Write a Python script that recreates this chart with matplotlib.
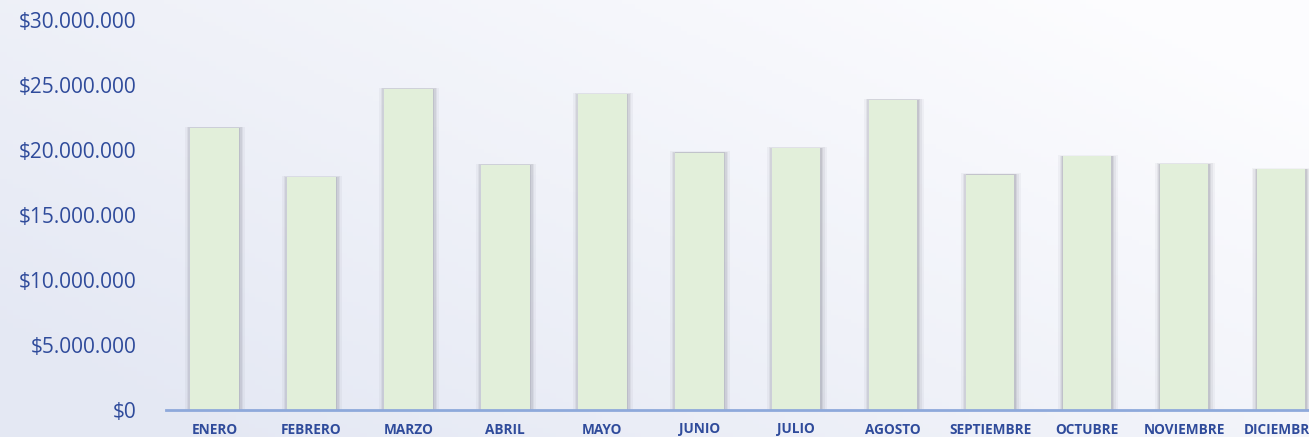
import numpy as np
import matplotlib.pyplot as plt
from matplotlib.ticker import FuncFormatter

meses = ['ENERO', 'FEBRERO', 'MARZO', 'ABRIL', 'MAYO', 'JUNIO', 'JULIO',
         'AGOSTO', 'SEPTIEMBRE', 'OCTUBRE', 'NOVIEMBRE', 'DICIEMBRE']
ventas = [21.7e6, 17.9e6, 24.7e6, 18.85e6, 24.3e6, 19.8e6, 20.15e6,
          23.85e6, 18.1e6, 19.5e6, 18.9e6, 18.5e6]
y_ticks = [0, 5e6, 10e6, 15e6, 20e6, 25e6, 30e6]

W, H = 1309, 437
fig = plt.figure(figsize=(W / 100, H / 100), dpi=100)

# fondo degradado
bg = fig.add_axes([0, 0, 1, 1], zorder=0)
gx = np.linspace(0, 1, 200)
gy = np.linspace(0, 1, 100)
X, Y = np.meshgrid(gx, gy)
t = np.clip(0.7 * X + 0.5 * Y - 0.1, 0, 1)
c0 = np.array([0.895, 0.91, 0.955])
c1 = np.array([0.99, 0.99, 0.998])
img = c0[None, None, :] * (1 - t[..., None]) + c1[None, None, :] * t[..., None]
bg.imshow(img, aspect='auto', extent=[0, 1, 0, 1], origin='lower')
bg.axis('off')

x0 = 166 / W
ax = fig.add_axes([x0, 27 / H, 1 - x0, (410 - 20) / H], zorder=1)
ax.patch.set_alpha(0)

x = np.arange(len(meses))
ventas = np.array(ventas)
# sombra difusa
for w, a in [(0.62, 0.05), (0.58, 0.07), (0.55, 0.09), (0.52, 0.12)]:
    ax.bar(x + 0.006, ventas + (w - 0.5) * 8e5, width=w, color='#505060',
           alpha=a, linewidth=0, zorder=2)
ax.bar(x, ventas, width=0.5, color='#E2EFDA', linewidth=0, zorder=3)

ax.set_xlim(-0.5, (W - 214) / 97)
ax.set_ylim(0, 30e6)
ax.set_yticks(y_ticks)
ax.yaxis.set_major_formatter(FuncFormatter(
    lambda v, p: '$' + f'{int(v):,}'.replace(',', '.')))
ax.set_xticks(x)
ax.set_xticklabels(meses, fontweight='bold', fontsize=9.8, color='#2F4B9B',
                   family='Open Sans')
for lab in ax.get_yticklabels():
    lab.set_family('Open Sans')
    lab.set_fontsize(15)
    lab.set_color('#2F4B9B')

ax.tick_params(axis='both', length=0)
ax.tick_params(axis='y', pad=21)
ax.tick_params(axis='x', pad=9)
for s in ['top', 'right', 'left']:
    ax.spines[s].set_visible(False)
ax.spines['bottom'].set_color('#8EA9DB')
ax.spines['bottom'].set_linewidth(2)
ax.spines['bottom'].set_zorder(4)

fig.savefig('out.png', dpi=100)
